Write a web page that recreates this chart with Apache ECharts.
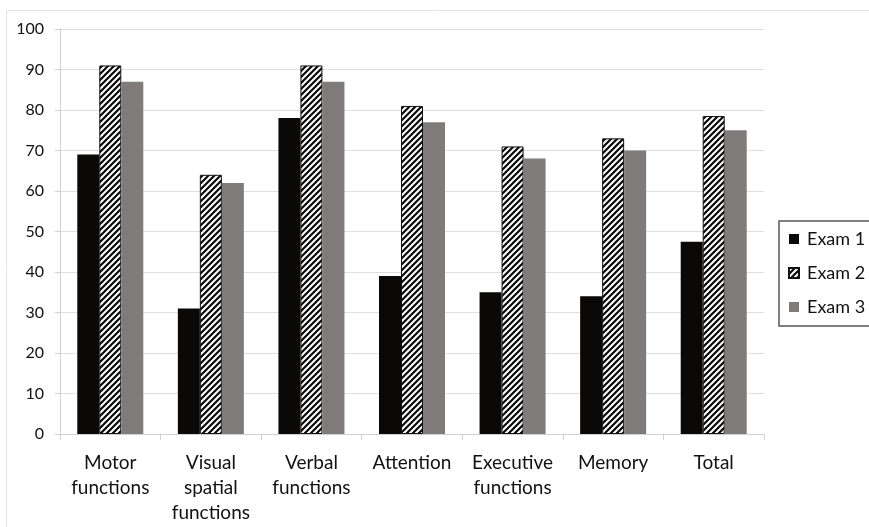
<!DOCTYPE html>
<html>
<head>
<meta charset="utf-8">
<script src="https://cdn.jsdelivr.net/npm/echarts@6/dist/echarts.min.js"></script>
<style>
  html, body { margin: 0; padding: 0; background: #fff; }
  #chart { width: 869px; height: 527px; }
</style>
</head>
<body>
<div id="chart"></div>
<script>
const categories = ['Motor\nfunctions', 'Visual\nspatial\nfunctions', 'Verbal\nfunctions', 'Attention', 'Executive\nfunctions', 'Memory', 'Total'];
const exam1 = [69, 31, 78, 39, 35, 34, 47.5];
const exam2 = [91, 64, 91, 81, 71, 73, 78.5];
const exam3 = [87, 62, 87, 77, 68, 70, 75];
const seriesNames = ['Exam 1', 'Exam 2', 'Exam 3'];

// diagonal stripe pattern for Exam 2
function stripes() {
  const c = document.createElement('canvas');
  c.width = 6; c.height = 6;
  const ctx = c.getContext('2d');
  ctx.fillStyle = '#fff';
  ctx.fillRect(0, 0, 6, 6);
  ctx.strokeStyle = '#0a0a0a';
  ctx.lineWidth = 2.2;
  ctx.beginPath();
  ctx.moveTo(-1, 7); ctx.lineTo(7, -1);
  ctx.moveTo(-4, 4); ctx.lineTo(4, -4);
  ctx.moveTo(2, 10); ctx.lineTo(10, 2);
  ctx.stroke();
  return c;
}

const myChart = echarts.init(document.getElementById('chart'));
const font = 'Lato';

const option = {
  animation: false,
  textStyle: { fontFamily: font },
  graphic: [{
    type: 'rect',
    shape: { x: 6.5, y: 10.5, width: 900, height: 600 },
    style: { fill: 'none', stroke: '#e4e4e4', lineWidth: 1 },
    silent: true
  }],
  grid: { left: 60, right: 105, top: 29, bottom: 93 },
  legend: {
    orient: 'vertical',
    left: 779,
    top: 221,
    padding: [8, 40, 9, 9],
    itemGap: 14,
    itemWidth: 10,
    itemHeight: 10,
    borderColor: '#555',
    borderWidth: 1.5,
    icon: 'rect',
    textStyle: { fontSize: 18, color: '#111', fontFamily: font, padding: [0, 0, 0, 3], lineHeight: 20 },
    data: seriesNames
  },
  xAxis: {
    type: 'category',
    data: categories,
    axisLine: { lineStyle: { color: '#d0d0d0' } },
    axisTick: { show: true, length: 6, lineStyle: { color: '#d0d0d0' } },
    axisLabel: { fontSize: 19, color: '#111', lineHeight: 25, margin: 16, interval: 0, fontFamily: font }
  },
  yAxis: {
    type: 'value',
    min: 0,
    max: 100,
    interval: 10,
    axisLine: { show: true, lineStyle: { color: '#d0d0d0' } },
    axisTick: { show: true, length: 5, lineStyle: { color: '#d0d0d0' } },
    axisLabel: { fontSize: 16, color: '#111', margin: 16, fontFamily: font },
    splitLine: { lineStyle: { color: '#dedede' } }
  },
  series: [
    {
      name: seriesNames[0], type: 'bar', data: exam1, barWidth: 22, barGap: '0%',
      itemStyle: { color: '#0a0908' }
    },
    {
      name: seriesNames[1], type: 'bar', data: exam2, barWidth: 22, barGap: '0%',
      itemStyle: { color: { image: stripes(), repeat: 'repeat' }, borderColor: '#111', borderWidth: 1 }
    },
    {
      name: seriesNames[2], type: 'bar', data: exam3, barWidth: 22, barGap: '0%',
      itemStyle: { color: '#7f7b7a' }
    }
  ]
};

myChart.setOption(option);
</script>
</body>
</html>
